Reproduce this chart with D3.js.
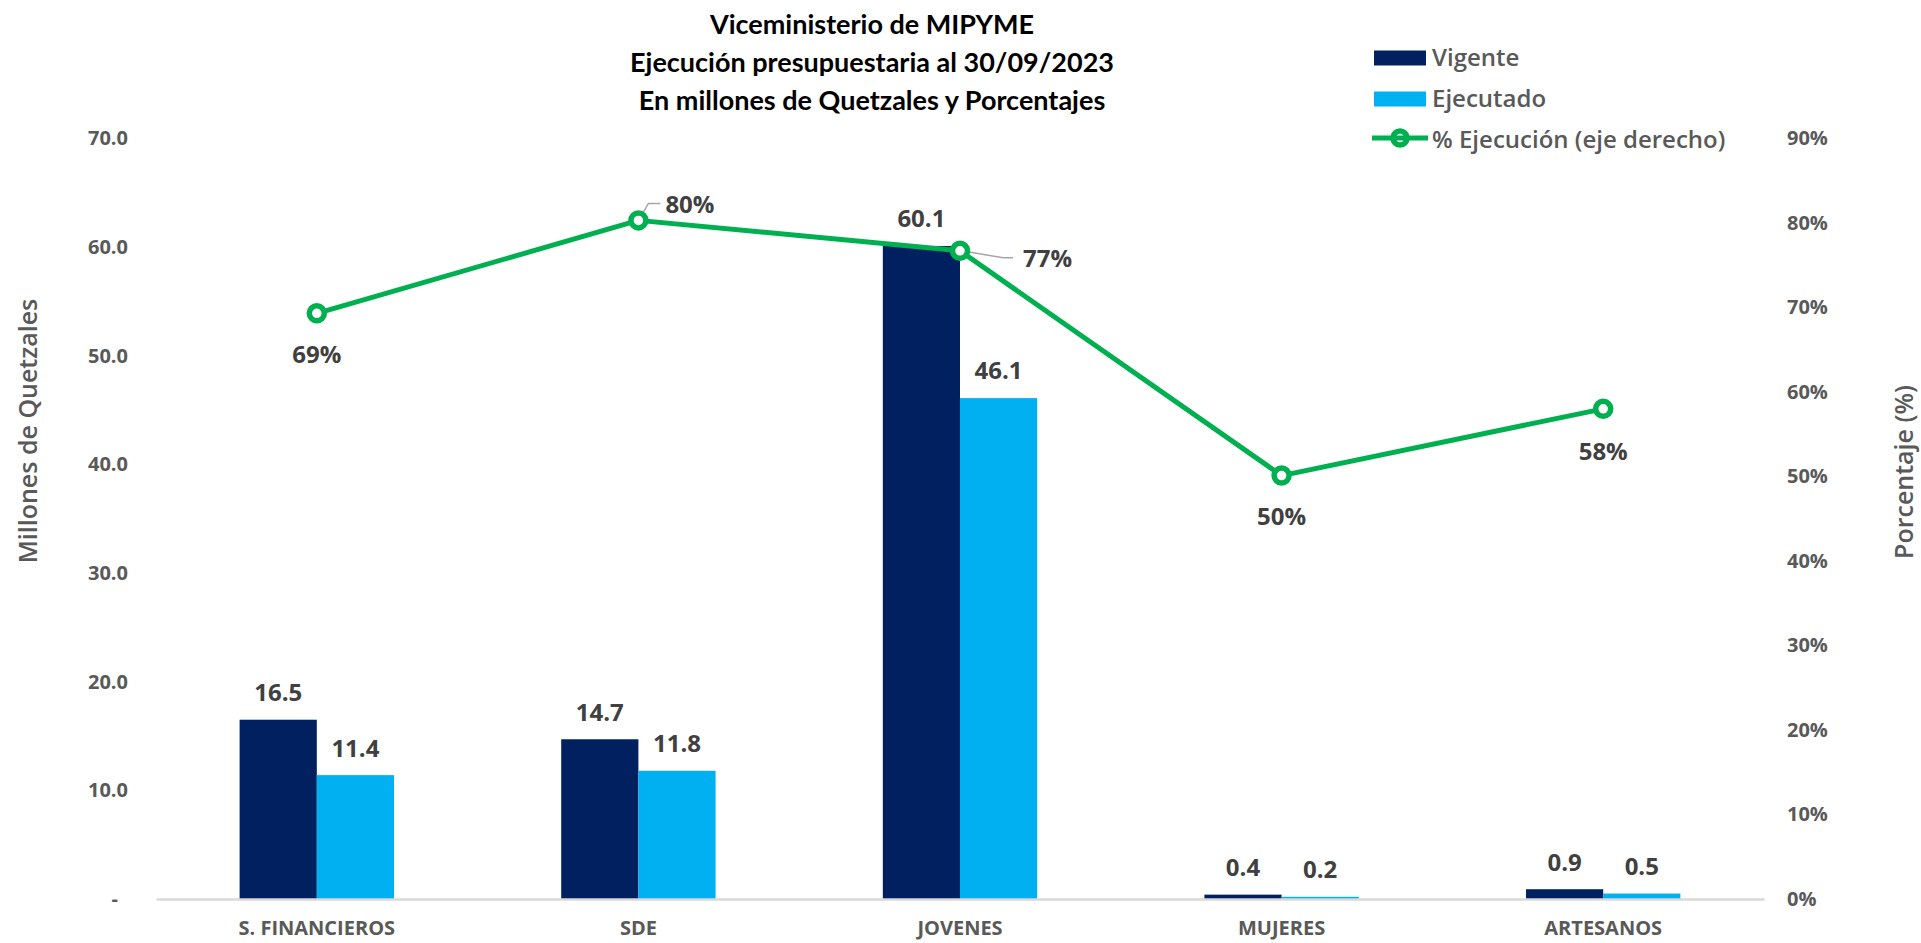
<!DOCTYPE html>
<html>
<head>
<meta charset="utf-8">
<script src="https://cdn.jsdelivr.net/npm/d3@7"></script>
<style>
  body { margin: 0; background: #fff; }
  svg { display: block; }
</style>
</head>
<body>
<script>
// data
var categories = ["S. FINANCIEROS", "SDE", "JOVENES", "MUJERES", "ARTESANOS"];
var vigente = [16.5, 14.7, 60.1, 0.4, 0.9];
var ejecutado = [11.4, 11.8, 46.1, 0.2, 0.5];
var pctEjecucion = [69.3, 80.3, 76.7, 50.1, 58.0];
var leftTicks = [0, 10, 20, 30, 40, 50, 60, 70];
var rightTicks = [0, 10, 20, 30, 40, 50, 60, 70, 80, 90];
var titleLines = ["Viceministerio de MIPYME", "Ejecución presupuestaria al 30/09/2023", "En millones de Quetzales y Porcentajes"];

var W = 1921, H = 943;
var x0 = 156, x1 = 1764, yTop = 138.4, yBase = 899;

var colVig = "#002060", colEje = "#00B0F0", colLine = "#00B050";
var gray = "#595959", dark = "#404040";

var svg = d3.select("body").append("svg")
  .attr("width", W)
  .attr("height", H);

// scales
var x = d3.scaleBand().domain(categories).range([x0, x1]).padding(0);
var y = d3.scaleLinear().domain([0, 70]).range([yBase, yTop]);
var y2 = d3.scaleLinear().domain([0, 90]).range([yBase, yTop]);
var barW = x.bandwidth() * 0.24;

// title
svg.append("text")
  .attr("x", 872).attr("y", 34)
  .attr("text-anchor", "middle")
  .style("font-family", "Lato, sans-serif")
  .style("font-weight", "bold")
  .style("font-size", "27px")
  .style("fill", "#000")
  .selectAll("tspan")
  .data(titleLines)
  .enter().append("tspan")
  .attr("x", 872)
  .attr("dy", function(d, i) { return i == 0 ? 0 : 38; })
  .text(function(d) { return d; });

// left axis
var axL = svg.append("g")
  .attr("transform", "translate(128,0)")
  .call(d3.axisLeft(y).tickValues(leftTicks).tickSize(0).tickPadding(0)
    .tickFormat(function(d) { return d == 0 ? "-" : d3.format(".1f")(d); }));
axL.select(".domain").remove();
axL.selectAll("text")
  .style("font-family", "'Open Sans', sans-serif")
  .style("font-weight", "bold")
  .style("font-size", "20px")
  .style("fill", gray)
  .attr("dx", function(d) { return d == 0 ? -10 : 0; });

// right axis
var axR = svg.append("g")
  .attr("transform", "translate(1787,0)")
  .call(d3.axisRight(y2).tickValues(rightTicks).tickSize(0).tickPadding(0)
    .tickFormat(function(d) { return d + "%"; }));
axR.select(".domain").remove();
axR.selectAll("text")
  .style("font-family", "'Open Sans', sans-serif")
  .style("font-weight", "bold")
  .style("font-size", "20px")
  .style("fill", gray);

// axis titles
svg.append("text")
  .attr("transform", "translate(37,431) rotate(-90)")
  .attr("text-anchor", "middle")
  .style("font-family", "'Open Sans', sans-serif")
  .style("font-weight", "600")
  .style("font-size", "25px")
  .style("fill", gray)
  .text("Millones de Quetzales");

svg.append("text")
  .attr("transform", "translate(1913,472) rotate(-90)")
  .attr("text-anchor", "middle")
  .style("font-family", "'Open Sans', sans-serif")
  .style("font-weight", "600")
  .style("font-size", "25px")
  .style("fill", gray)
  .text("Porcentaje (%)");

// bars
var groups = svg.selectAll(".cat")
  .data(categories)
  .enter().append("g")
  .attr("class", "cat");

groups.append("rect")
  .attr("x", function(d) { return x(d) + x.bandwidth() / 2 - barW; })
  .attr("y", function(d, i) { return y(vigente[i]); })
  .attr("width", barW)
  .attr("height", function(d, i) { return yBase - y(vigente[i]); })
  .style("fill", colVig);

groups.append("rect")
  .attr("x", function(d) { return x(d) + x.bandwidth() / 2; })
  .attr("y", function(d, i) { return y(ejecutado[i]); })
  .attr("width", barW)
  .attr("height", function(d, i) { return yBase - y(ejecutado[i]); })
  .style("fill", colEje);

// bottom axis
var axB = svg.append("g")
  .attr("transform", "translate(0," + yBase + ")")
  .call(d3.axisBottom(x).tickSize(0).tickSizeOuter(0).tickPadding(22));
axB.select(".domain").style("stroke", "#D9D9D9").style("stroke-width", 2.5);
axB.selectAll("text")
  .style("font-family", "'Open Sans', sans-serif")
  .style("font-weight", "bold")
  .style("font-size", "20px")
  .style("fill", gray);

// bar labels
var lblStyle = function(sel) {
  sel.attr("text-anchor", "middle")
    .attr("dy", "0.35em")
    .style("font-family", "'Open Sans', sans-serif")
    .style("font-weight", "bold")
    .style("font-size", "24px")
    .style("fill", dark);
};
groups.append("text")
  .attr("x", function(d) { return x(d) + x.bandwidth() / 2 - barW / 2; })
  .attr("y", function(d, i) { return y(vigente[i]) - 27; })
  .text(function(d, i) { return vigente[i].toFixed(1); })
  .call(lblStyle);
groups.append("text")
  .attr("x", function(d) { return x(d) + x.bandwidth() / 2 + barW / 2; })
  .attr("y", function(d, i) { return y(ejecutado[i]) - 27; })
  .text(function(d, i) { return ejecutado[i].toFixed(1); })
  .call(lblStyle);

// line
var cx = function(i) { return x(categories[i]) + x.bandwidth() / 2; };
var line = d3.line()
  .x(function(d, i) { return cx(i); })
  .y(function(d) { return y2(d); });

svg.append("path")
  .datum(pctEjecucion)
  .attr("d", line)
  .style("fill", "none")
  .style("stroke", colLine)
  .style("stroke-width", 5)
  .style("stroke-linejoin", "round");

// leader lines for labels placed beside the point
var leaders = { 1: [[2, -3], [10, -17], [22, -17]], 2: [[2, 0], [43, 7], [53, 7]] };
Object.keys(leaders).forEach(function(k) {
  var i = +k, px = cx(i), py = y2(pctEjecucion[i]);
  svg.append("path")
    .attr("d", d3.line()(leaders[k].map(function(p) { return [px + p[0], py + p[1]]; })))
    .style("fill", "none")
    .style("stroke", "#A6A6A6")
    .style("stroke-width", 1.5);
});

svg.selectAll(".marker")
  .data(pctEjecucion)
  .enter().append("circle")
  .attr("class", "marker")
  .attr("cx", function(d, i) { return cx(i); })
  .attr("cy", function(d) { return y2(d); })
  .attr("r", 7.5)
  .style("fill", "#fff")
  .style("stroke", colLine)
  .style("stroke-width", 5.5);

// percent labels: below, except SDE (up-right) and JOVENES (right)
var pctOff = [[0, 41, "middle"], [27, -16, "start"], [63, 8, "start"], [0, 41, "middle"], [0, 43, "middle"]];
svg.selectAll(".pct")
  .data(pctEjecucion)
  .enter().append("text")
  .attr("class", "pct")
  .attr("x", function(d, i) { return cx(i) + pctOff[i][0]; })
  .attr("y", function(d, i) { return y2(d) + pctOff[i][1]; })
  .attr("text-anchor", function(d, i) { return pctOff[i][2]; })
  .attr("dy", "0.35em")
  .style("font-family", "'Open Sans', sans-serif")
  .style("font-weight", "bold")
  .style("font-size", "24px")
  .style("fill", dark)
  .text(function(d) { return Math.round(d) + "%"; });

// legend
var legend = svg.append("g").attr("transform", "translate(1374,0)");
var legItems = [
  { name: "Vigente", type: "rect", color: colVig, y: 58 },
  { name: "Ejecutado", type: "rect", color: colEje, y: 99 },
  { name: "% Ejecución (eje derecho)", type: "line", color: colLine, y: 140 }
];
legItems.forEach(function(d) {
  if (d.type == "rect") {
    legend.append("rect")
      .attr("x", 0).attr("y", d.y - 7.5)
      .attr("width", 52).attr("height", 15)
      .style("fill", d.color);
  } else {
    legend.append("circle")
      .attr("cx", 26).attr("cy", d.y - 2).attr("r", 7)
      .style("fill", "#fff").style("stroke", d.color).style("stroke-width", 5.5);
    legend.append("line")
      .attr("x1", -2).attr("x2", 54).attr("y1", d.y - 2).attr("y2", d.y - 2)
      .style("stroke", d.color).style("stroke-width", 5);
  }
  legend.append("text")
    .attr("x", 58).attr("y", d.y)
    .attr("dy", "0.35em")
    .style("font-family", "'Open Sans', sans-serif")
    .style("font-weight", "600")
    .style("font-size", "24px")
    .style("fill", gray)
    .text(d.name);
});
</script>
</body>
</html>
